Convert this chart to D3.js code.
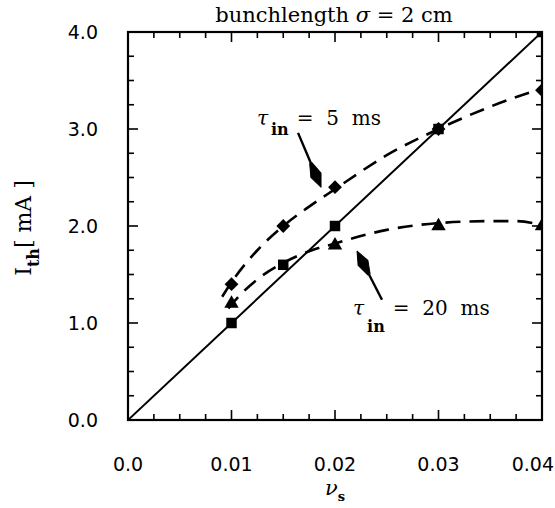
<!DOCTYPE html>
<html><head><meta charset="utf-8">
<script src="https://cdn.jsdelivr.net/npm/d3@7"></script>
<style>body{margin:0;background:#fff}svg{display:block}</style>
</head><body><svg id="c" width="555" height="508"></svg>
<script>
// ---- data ----
const nuLine = [0.0, 0.04];           // solid line I = 100*nu
const ILine  = [0.0, 4.0];
const sqX = [0.010, 0.015, 0.020, 0.030, 0.040];
const sqY = [1.0, 1.6, 2.0, 3.0, 4.0];
const diaX = [0.010, 0.015, 0.020, 0.030, 0.040];       // tau_in = 5 ms
const diaY = [1.4, 2.0, 2.4, 3.0, 3.4];
const triX = [0.010, 0.020, 0.030, 0.040];              // tau_in = 20 ms
const triY = [1.2, 1.8, 2.0, 2.0];
const fit5X = [0.0091, 0.010, 0.0125, 0.015, 0.0175, 0.020, 0.025, 0.030, 0.035, 0.040];
const fit5Y = [1.27, 1.42, 1.75, 2.0, 2.2, 2.38, 2.73, 3.0, 3.23, 3.42];
const fit20X = [0.0097, 0.010, 0.0125, 0.015, 0.0175, 0.020, 0.025, 0.030, 0.035, 0.0375, 0.040];
const fit20Y = [1.15, 1.19, 1.45, 1.62, 1.74, 1.82, 1.96, 2.03, 2.05, 2.05, 2.01];
const xTickLabels = ["0.0", "0.01", "0.02", "0.03", "0.04"];
const yTickLabels = ["0.0", "1.0", "2.0", "3.0", "4.0"];
const xTickVals = [0, 0.01, 0.02, 0.03, 0.04];
const yTickVals = [0, 1, 2, 3, 4];

// ---- layout ----
const L = 128, R = 542, T = 32, B = 420;
const x = d3.scaleLinear().domain([0, 0.04]).range([L, R]);
const y = d3.scaleLinear().domain([0, 4]).range([B, T]);
const svg = d3.select("#c");
const serif = "'DejaVu Serif', serif";
const sans = "'DejaVu Sans', sans-serif";

svg.append("defs").append("clipPath").attr("id", "clip")
  .append("rect").attr("x", L).attr("y", T).attr("width", R - L).attr("height", B - T);

// ticks (inward, all four sides)
const xMinor = d3.range(0, 0.04001, 0.0025);
const yMinor = d3.range(0, 4.0001, 0.25);
const tk = svg.append("g").attr("stroke", "#000").attr("stroke-width", 1.6);
xMinor.forEach((v, i) => {
  const len = (i % 4 === 0) ? 10 : 6;
  tk.append("line").attr("x1", x(v)).attr("x2", x(v)).attr("y1", B).attr("y2", B - len);
  tk.append("line").attr("x1", x(v)).attr("x2", x(v)).attr("y1", T).attr("y2", T + len);
});
yMinor.forEach((v, i) => {
  const len = (i % 4 === 0) ? 10 : 6;
  tk.append("line").attr("y1", y(v)).attr("y2", y(v)).attr("x1", L).attr("x2", L + len);
  tk.append("line").attr("y1", y(v)).attr("y2", y(v)).attr("x1", R).attr("x2", R - len);
});

// frame
svg.append("rect").attr("x", L).attr("y", T).attr("width", R - L).attr("height", B - T)
  .attr("fill", "none").attr("stroke", "#000").attr("stroke-width", 2.2);

// tick labels
svg.append("g").selectAll("text").data(xTickVals).join("text")
  .attr("x", (d, i) => i === xTickVals.length - 1 ? 554 : x(d))
  .attr("y", 471)
  .attr("text-anchor", (d, i) => i === xTickVals.length - 1 ? "end" : "middle")
  .attr("font-family", sans).attr("font-size", 19).text((d, i) => xTickLabels[i]);
svg.append("g").selectAll("text").data(yTickVals).join("text")
  .attr("x", 98).attr("y", d => y(d) + 7).attr("text-anchor", "end")
  .attr("font-family", sans).attr("font-size", 19).text((d, i) => yTickLabels[i]);

// plot content
const g = svg.append("g").attr("clip-path", "url(#clip)");
const line = d3.line().x(d => x(d[0])).y(d => y(d[1]));
g.append("path").attr("d", line(d3.zip(nuLine, ILine)))
  .attr("fill", "none").attr("stroke", "#000").attr("stroke-width", 2);
const curve = d3.line().x(d => x(d[0])).y(d => y(d[1])).curve(d3.curveMonotoneX);
g.append("path").attr("d", curve(d3.zip(fit5X, fit5Y)))
  .attr("fill", "none").attr("stroke", "#000").attr("stroke-width", 2.6)
  .attr("stroke-dasharray", "15,9");
g.append("path").attr("d", curve(d3.zip(fit20X, fit20Y)))
  .attr("fill", "none").attr("stroke", "#000").attr("stroke-width", 2.6)
  .attr("stroke-dasharray", "15,9");

const sym = (type, size) => d3.symbol().type(type).size(size)();
g.selectAll(".sq").data(d3.zip(sqX, sqY)).join("path")
  .attr("transform", d => `translate(${x(d[0])},${y(d[1])})`)
  .attr("d", sym(d3.symbolSquare, 110)).attr("fill", "#000");
g.selectAll(".dia").data(d3.zip(diaX, diaY)).join("path")
  .attr("transform", d => `translate(${x(d[0])},${y(d[1])}) rotate(45)`)
  .attr("d", sym(d3.symbolSquare, 95)).attr("fill", "#000");
g.selectAll(".tri").data(d3.zip(triX, triY)).join("path")
  .attr("transform", d => `translate(${x(d[0])},${y(d[1])})`)
  .attr("d", sym(d3.symbolTriangle, 90)).attr("fill", "#000");

// arrows (kite-shaped heads)
function arrow(x0, y0, x1, y1) {
  const X0 = x(x0), Y0 = y(y0), X1 = x(x1), Y1 = y(y1);
  const ang = Math.atan2(Y1 - Y0, X1 - X0) * 180 / Math.PI;
  const len = Math.hypot(X1 - X0, Y1 - Y0);
  const a = svg.append("g").attr("transform", `translate(${X0},${Y0}) rotate(${ang})`);
  a.append("line").attr("x1", 0).attr("y1", 0).attr("x2", len - 20).attr("y2", 0)
    .attr("stroke", "#000").attr("stroke-width", 2.4);
  a.append("path")
    .attr("d", `M${len},0 L${len - 13},-5.5 L${len - 26},-1.3 L${len - 26},1.3 L${len - 13},5.5 Z`)
    .attr("fill", "#000").attr("stroke", "#000").attr("stroke-width", 1).attr("stroke-linejoin", "round");
}
arrow(0.01643, 2.96, 0.01865, 2.40);
arrow(0.02454, 1.24, 0.02213, 1.74);

// annotation texts
function tauLabel(xv, yv, subDy, rest) {
  const t = svg.append("text").attr("x", x(xv)).attr("y", y(yv))
    .attr("font-family", serif).attr("font-size", 20);
  t.append("tspan").attr("font-style", "italic").text("τ");
  t.append("tspan").attr("dx", 3).attr("dy", subDy).attr("font-weight", "bold")
    .attr("font-size", 16).text("in");
  t.append("tspan").attr("dy", -subDy).attr("dx", rest.dx).attr("xml:space", "preserve").text(rest.text);
}
tauLabel(0.01246, 3.04, 10, {dx: 8, text: "=  5  ms"});
tauLabel(0.02174, 1.08, 17, {dx: 8, text: "=  20  ms"});

// title
const ti = svg.append("text").attr("x", 334).attr("y", 22).attr("text-anchor", "middle")
  .attr("font-family", serif).attr("font-size", 21).attr("xml:space", "preserve");
ti.append("tspan").text("bunchlength ");
ti.append("tspan").attr("font-style", "italic").text("σ");
ti.append("tspan").text(" = 2 cm");

// axis labels
const xl = svg.append("text").attr("x", 335).attr("y", 495).attr("text-anchor", "middle")
  .attr("font-family", serif).attr("font-size", 21);
xl.append("tspan").attr("font-style", "italic").text("ν");
xl.append("tspan").attr("dy", 6).attr("font-size", 13).attr("font-weight", "bold").text("s");

const yl = svg.append("text").attr("transform", "translate(31,228) rotate(-90)")
  .attr("text-anchor", "middle").attr("font-family", serif).attr("font-size", 22)
  .attr("xml:space", "preserve");
yl.append("tspan").text("I");
yl.append("tspan").attr("dy", 8).attr("font-size", 16).attr("font-weight", "bold").text("th");
yl.append("tspan").attr("dy", -8).text("[ mA ]");
</script></body></html>
